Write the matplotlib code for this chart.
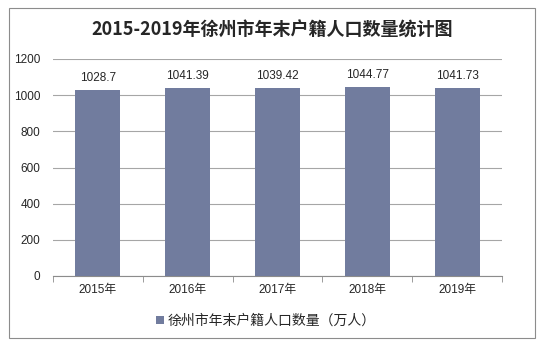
import matplotlib.pyplot as plt
from matplotlib.patches import Rectangle

plt.rcParams['font.family'] = ['Liberation Sans', 'Noto Sans CJK SC']

years = ['2015年', '2016年', '2017年', '2018年', '2019年']
population = [1028.7, 1041.39, 1039.42, 1044.77, 1041.73]
labels = ['1028.7', '1041.39', '1039.42', '1044.77', '1041.73']

fig = plt.figure(figsize=(5.44, 3.47), dpi=100)
fig.patches.append(Rectangle((9 / 544, 1 - 338 / 347), 526 / 544, 330 / 347,
                             transform=fig.transFigure, fill=False,
                             edgecolor='#8c8c8c', linewidth=0.8))

ax = fig.add_axes([53 / 544, 1 - 276 / 347, 449 / 544, 217 / 347])
x = range(len(years))
bars = ax.bar(x, population, width=0.5, color='#717c9e', zorder=3,
              label='徐州市年末户籍人口数量（万人）')
for i, v in enumerate(population):
    ax.text(i, v + 32, labels[i], ha='center', va='bottom', fontsize=8.5,
            color='#262626')

ax.set_ylim(0, 1200)
ax.set_xlim(-0.5, 4.5)
ax.set_yticks(range(0, 1201, 200))
ax.grid(axis='y', color='#a6a6a6', linewidth=0.8, zorder=0)
for s in ['top', 'right', 'left']:
    ax.spines[s].set_visible(False)
ax.spines['bottom'].set_color('#8c8c8c')
ax.tick_params(axis='y', length=0, labelsize=8.5, labelcolor='#262626', pad=9)
ax.set_xticks(list(x))
ax.set_xticklabels(years)
ax.tick_params(axis='x', length=0, labelsize=8.5, labelcolor='#262626', pad=6)
ax.set_xticks([i - 0.5 for i in range(6)], minor=True)
ax.tick_params(axis='x', which='minor', length=4, color='#8c8c8c')

fig.text(0.5, 1 - 30 / 347, '2015-2019年徐州市年末户籍人口数量统计图', ha='center',
         va='center', fontsize=13, fontweight='bold', color='#262626',
         family=['Noto Sans CJK SC'])

fig.legend(handles=[bars], loc='center', bbox_to_anchor=(266 / 544, 1 - 321 / 347),
           frameon=False, fontsize=10, handlelength=0.55, handleheight=0.55,
           handletextpad=0.25, labelcolor='#262626')

fig.savefig('out.png', dpi=100)
